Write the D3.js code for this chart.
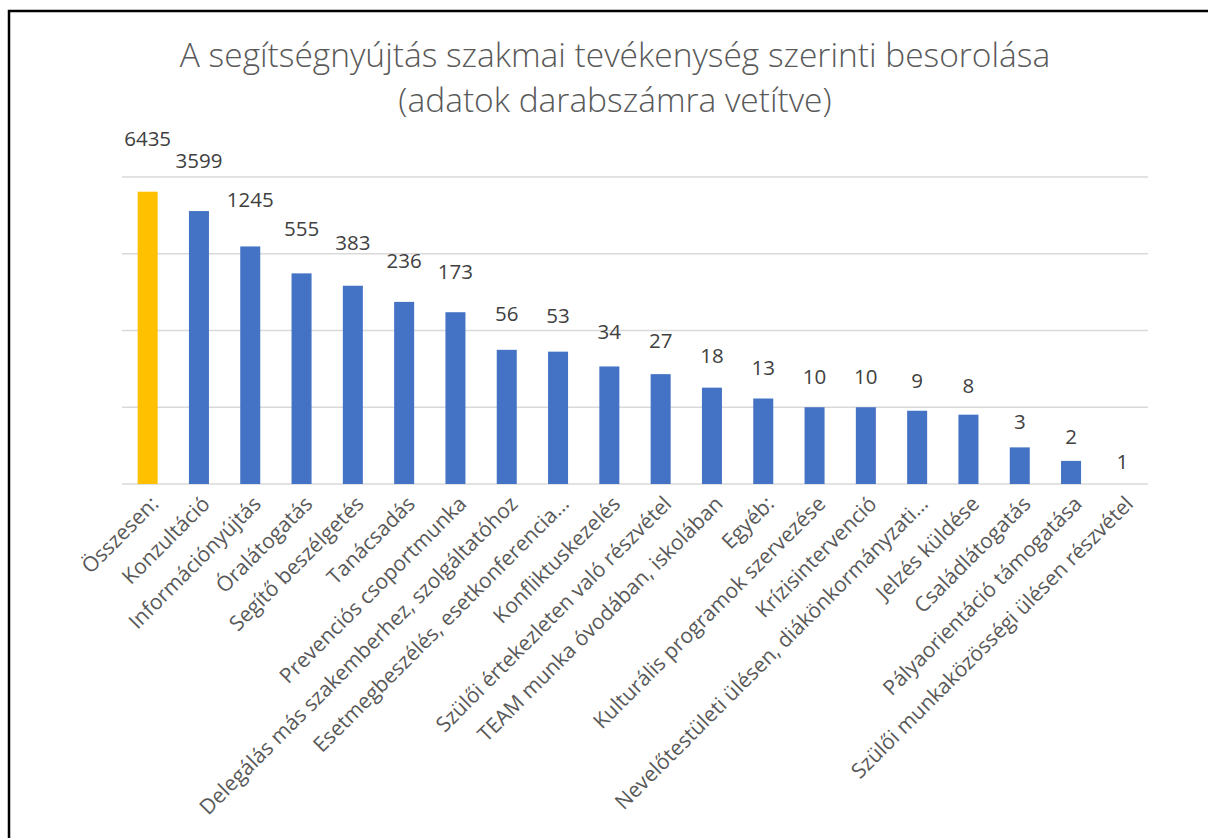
<!DOCTYPE html>
<html>
<head>
<meta charset="utf-8">
<script src="https://cdn.jsdelivr.net/npm/d3@7"></script>
<style>
  body { margin: 0; background: #fff; }
  svg text { font-family: "Open Sans", "Noto Sans", sans-serif; }
</style>
</head>
<body>
<div id="wrapper"></div>
<script>
// data
const categories = [
  "Összesen:", "Konzultáció", "Információnyújtás", "Óralátogatás",
  "Segítő beszélgetés", "Tanácsadás", "Prevenciós csoportmunka",
  "Delegálás más szakemberhez, szolgáltatóhoz",
  "Esetmegbeszélés, esetkonferencia…", "Konfliktuskezelés",
  "Szülői értekezleten való részvétel", "TEAM munka óvodában, iskolában",
  "Egyéb:", "Kulturális programok szervezése", "Krízisintervenció",
  "Nevelőtestületi ülésen, diákönkormányzati…", "Jelzés küldése",
  "Családlátogatás", "Pályaorientáció támogatása",
  "Szülői munkaközösségi ülésen részvétel"
];
const values = [6435, 3599, 1245, 555, 383, 236, 173, 56, 53, 34, 27, 18, 13, 10, 10, 9, 8, 3, 2, 1];
const yTicks = [1, 10, 100, 1000, 10000];
const titleLines = [
  "A segítségnyújtás szakmai tevékenység szerinti besorolása",
  "(adatok darabszámra vetítve)"
];

const drawChart = () => {
  const width = 1208;
  const height = 838;
  const margin = { top: 177, right: 60, bottom: 354, left: 122 };
  const boundedWidth = width - margin.left - margin.right;
  const boundedHeight = height - margin.top - margin.bottom;

  const svg = d3.select("#wrapper")
    .append("svg")
      .attr("width", width)
      .attr("height", height);

  // frame (left and top edges are visible, the rest run off the page)
  svg.append("rect")
    .attr("x", 9).attr("y", 11)
    .attr("width", width + 20).attr("height", height + 20)
    .attr("fill", "none")
    .attr("stroke", "#000")
    .attr("stroke-width", 2.5);

  // title
  svg.append("g").selectAll("text")
    .data(titleLines)
    .join("text")
      .attr("x", 615)
      .attr("y", (d, i) => 67 + i * 45)
      .attr("text-anchor", "middle")
      .attr("fill", "#595959")
      .style("font-size", "33.5px")
      .style("font-weight", 300)
      .text(d => d);

  const bounds = svg.append("g")
    .attr("transform", `translate(${margin.left},${margin.top})`);

  const xScale = d3.scaleBand()
    .domain(categories)
    .range([0, boundedWidth])
    .paddingInner(0.61)
    .paddingOuter(0.305);

  const yScale = d3.scaleLog()
    .domain([1, 10000])
    .range([boundedHeight, 0]);

  // gridlines
  bounds.append("g").selectAll("line")
    .data(yTicks)
    .join("line")
      .attr("x1", 0)
      .attr("x2", boundedWidth)
      .attr("y1", d => yScale(d))
      .attr("y2", d => yScale(d))
      .attr("stroke", "#d9d9d9")
      .attr("stroke-width", 1.5);

  // bars
  bounds.append("g").selectAll("rect")
    .data(values)
    .join("rect")
      .attr("x", (d, i) => xScale(categories[i]))
      .attr("width", xScale.bandwidth())
      .attr("y", d => yScale(d))
      .attr("height", d => boundedHeight - yScale(d))
      .attr("fill", (d, i) => i === 0 ? "#ffc000" : "#4472c4");

  // value labels: Excel pushes them further up for the taller bars
  const labelScale = d3.scaleLog()
    .domain([1, 10000])
    .range([boundedHeight - 22, boundedHeight - 22 - 4 * 84.8]);

  bounds.append("g").selectAll("text")
    .data(values)
    .join("text")
      .attr("x", (d, i) => xScale(categories[i]) + xScale.bandwidth() / 2)
      .attr("y", d => labelScale(d))
      .attr("dy", "0.35em")
      .attr("text-anchor", "middle")
      .attr("fill", "#404040")
      .style("font-size", "20.5px")
      .text(d => d);

  // category labels
  bounds.append("g").selectAll("text")
    .data(categories)
    .join("text")
      .attr("transform", d =>
        `translate(${xScale(d) + xScale.bandwidth() / 2 + 7},${boundedHeight + 16}) rotate(-45)`)
      .attr("text-anchor", "end")
      .attr("dy", "0.35em")
      .attr("fill", "#595959")
      .style("font-size", "21px")
      .text(d => d);
};

drawChart();
</script>
</body>
</html>
